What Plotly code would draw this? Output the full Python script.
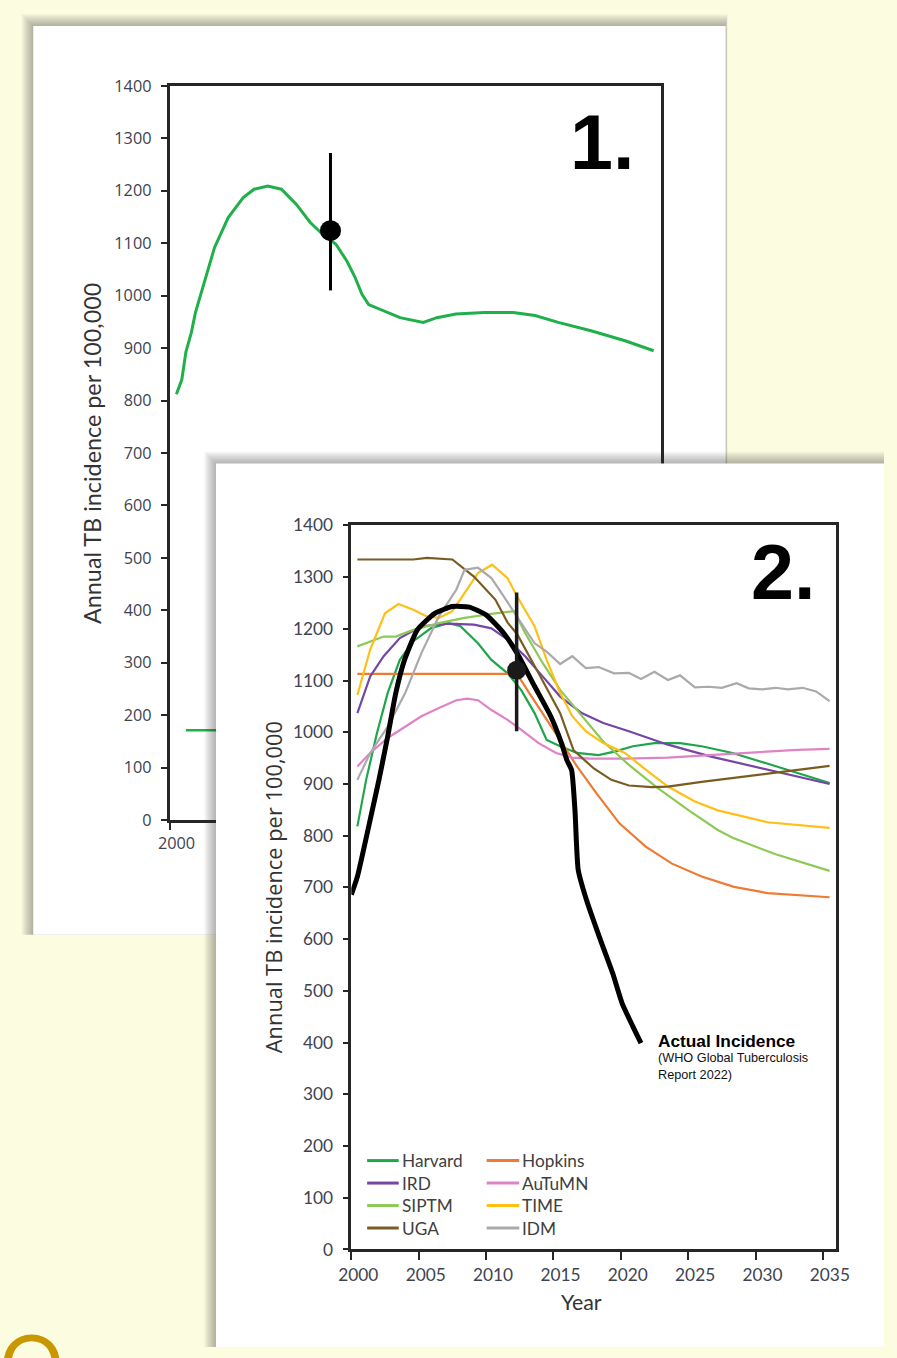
import plotly.graph_objects as go

W, H = 897, 1358
BG = "#FCFCE1"
AXIS = "#262626"
TICKC = "#3D4350"

# screen mapping observed for the photographing step (picture px = S * figure px + O)
SX, OX = 0.983, 9.5
SY, OY = 0.985, 10.0
FS = 1 / 0.984  # font/size compensation

# ---------------- Panel 1 data (single model) ----------------
p1_years = [2000.5, 2000.9, 2001.2, 2001.6, 2001.9, 2002.5, 2003.3, 2004.3, 2005.4, 2006.2,
            2007.2, 2008.2, 2009.3, 2010.3, 2011.1, 2012.2, 2013.0, 2013.6, 2014.1, 2014.6,
            2015.7, 2016.9, 2018.6, 2019.6, 2021.0, 2023.1, 2025.2, 2026.8, 2028.5, 2030.9,
            2033.4, 2035.5]
p1_values = [812, 840, 893, 930, 968, 1022, 1092, 1149, 1187, 1203,
             1209, 1203, 1174, 1140, 1120, 1098, 1066, 1035, 1003, 983,
             971, 958, 949, 958, 965, 968, 968, 962, 949, 933,
             914, 895]
p1_point = {"year": 2011.8, "value": 1124, "plus": 148, "minus": 114}
p1_legend_value = 171

# ---------------- Panel 2 data (eight models + actual) ----------------
harvard_x = [2000.45, 2001.1, 2001.9, 2002.7, 2003.6, 2004.6, 2005.9, 2007.2, 2008.1, 2009.4, 2010.4,
             2011.6, 2012.6, 2013.6, 2014.5, 2015.5, 2016.75, 2018.35, 2019.6, 2020.9, 2022.5, 2024.4,
             2026.0, 2028.3, 2030.8, 2033.1, 2035.5]
harvard_y = [818, 908, 998, 1076, 1140, 1176, 1201, 1211, 1205, 1172, 1140,
             1114, 1082, 1037, 985, 973, 960, 956, 963, 973, 979, 979,
             973, 960, 940, 921, 902]

hopkins_x = [2000.45, 2012.3, 2013.2, 2014.2, 2015.5, 2016.7, 2018.2, 2019.9, 2021.85, 2023.8,
             2026.0, 2028.4, 2030.9, 2035.5]
hopkins_y = [1113, 1113, 1076, 1037, 985, 936, 882, 824, 779, 746,
             721, 701, 689, 681]

ird_x = [2000.45, 2001.4, 2002.4, 2003.6, 2005.2, 2007.2, 2009.1, 2010.4, 2011.6, 2012.9, 2014.2,
         2015.5, 2017.1, 2018.7, 2020.6, 2023.5, 2026.7, 2029.9, 2033.1, 2035.5]
ird_y = [1037, 1108, 1147, 1182, 1205, 1210, 1208, 1201, 1179, 1147, 1108,
         1069, 1037, 1018, 1002, 976, 953, 934, 914, 900]

autumn_x = [2000.45, 2001.4, 2002.7, 2004.0, 2005.2, 2006.5, 2007.8, 2008.6, 2009.4, 2010.4, 2011.6,
            2012.6, 2013.9, 2015.2, 2016.4, 2017.7, 2020.3, 2023.5, 2026.7, 2029.9, 2033.1, 2035.5]
autumn_y = [934, 960, 989, 1011, 1031, 1047, 1062, 1065, 1062, 1043, 1024,
            1005, 979, 960, 951, 949, 949, 951, 956, 962, 966, 968]

siptm_x = [2000.45, 2001.4, 2002.4, 2003.3, 2004.6, 2006.5, 2008.4, 2010.4, 2012.1, 2012.9, 2014.2,
           2015.5, 2017.1, 2018.7, 2020.6, 2022.7, 2025.1, 2027.2, 2028.3, 2031.5, 2035.5]
siptm_y = [1166, 1176, 1185, 1185, 1198, 1211, 1221, 1229, 1234, 1192, 1134,
           1082, 1031, 982, 937, 893, 848, 811, 796, 764, 732]

time_x = [2000.45, 2001.4, 2002.5, 2003.5, 2004.6, 2005.6, 2006.5, 2007.5, 2008.4, 2009.4, 2010.45,
          2011.6, 2012.3, 2013.6, 2014.5, 2015.5, 2016.4, 2017.4, 2018.7, 2020.3, 2021.9, 2023.5,
          2025.5, 2027.2, 2030.9, 2035.5]
time_y = [1072, 1160, 1230, 1248, 1237, 1224, 1221, 1234, 1269, 1308, 1324,
          1298, 1263, 1205, 1140, 1076, 1031, 1002, 979, 960, 927, 895,
          866, 849, 826, 815]

uga_x = [2000.45, 2004.6, 2005.6, 2007.5, 2009.1, 2010.7, 2011.6, 2012.3, 2013.9, 2015.5, 2016.5,
         2018.0, 2019.3, 2020.6, 2022.3, 2023.5, 2026.0, 2030.9, 2035.5]
uga_y = [1334, 1334, 1337, 1334, 1301, 1256, 1212, 1190, 1114, 1037, 965,
         930, 908, 897, 894, 895, 904, 920, 935]

idm_x = [2000.45, 2001.4, 2002.7, 2004.0, 2005.2, 2006.5, 2007.8, 2008.4, 2009.4, 2010.4, 2011.3,
         2012.3, 2012.9, 2013.6, 2014.5, 2015.5, 2016.4, 2017.4, 2018.35, 2019.5, 2020.6, 2021.5,
         2022.5, 2023.5, 2024.4, 2025.5, 2026.5, 2027.5, 2028.6, 2029.5, 2030.5, 2031.5, 2032.4,
         2033.5, 2034.5, 2035.5]
idm_y = [908, 960, 1011, 1076, 1153, 1224, 1276, 1314, 1318, 1298, 1263,
         1224, 1198, 1172, 1156, 1132, 1147, 1124, 1126, 1114, 1115, 1103,
         1117, 1101, 1110, 1087, 1088, 1086, 1095, 1085, 1083, 1086, 1083,
         1086, 1079, 1060]

actual_x = [2000.0, 2000.45, 2001.4, 2002.05, 2002.7, 2003.3, 2003.95, 2004.9, 2006.2, 2007.5, 2008.75,
            2010.0, 2011.3, 2012.3, 2013.6, 2014.8, 2015.6, 2016.0, 2016.35, 2016.6, 2016.84, 2017.45,
            2018.4, 2019.4, 2020.1, 2020.9, 2021.5]
actual_y = [686, 721, 831, 908, 992, 1076, 1140, 1198, 1230, 1243, 1242,
            1227, 1192, 1153, 1089, 1031, 979, 946, 927, 849, 734, 676,
            605, 534, 476, 431, 399]

p2_point = {"year": 2012.27, "value": 1120, "plus": 150, "minus": 118}

models = ["Harvard", "Hopkins", "IRD", "AuTuMN", "SIPTM", "TIME", "UGA", "IDM"]
model_x = [harvard_x, hopkins_x, ird_x, autumn_x, siptm_x, time_x, uga_x, idm_x]
model_y = [harvard_y, hopkins_y, ird_y, autumn_y, siptm_y, time_y, uga_y, idm_y]
colors = ["#1FA64A", "#EE7A33", "#7447A6", "#E083C6", "#8DC955", "#FFBF14", "#7A5C22", "#AAAAAA"]
legend_cols = [["Harvard", "IRD", "SIPTM", "UGA"], ["Hopkins", "AuTuMN", "TIME", "IDM"]]

year_ticks = [2000, 2005, 2010, 2015, 2020, 2025, 2030, 2035]
value_ticks = list(range(0, 1401, 100))


def fx(p):
    """target picture x pixel -> paper fraction"""
    return ((p - OX) / SX) / W


def fy(p):
    """target picture y pixel -> paper fraction"""
    return 1 - ((p - OY) / SY) / H


def fs(s):
    return round(s * FS, 2)


fig = go.Figure()

# ---- panel 1 traces (subplot xy) ----
fig.add_trace(go.Scatter(x=p1_years, y=p1_values, mode="lines",
                         line=dict(color="#1FB04A", width=3), xaxis="x", yaxis="y",
                         showlegend=False, hoverinfo="skip"))
fig.add_trace(go.Scatter(x=[p1_point["year"]], y=[p1_point["value"]], mode="markers",
                         marker=dict(color="black", size=21),
                         error_y=dict(type="data", symmetric=False, array=[p1_point["plus"]],
                                      arrayminus=[p1_point["minus"]], thickness=3, width=0,
                                      color="black"),
                         xaxis="x", yaxis="y", showlegend=False, hoverinfo="skip"))

# ---- card 2 (subplot x2y2, drawn above panel 1); its axes use picture pixels ----
C2X, C2Y = 215, 463
for k in range(12, 0, -1):
    fig.add_trace(go.Scatter(x=[C2X - k, 930, 930, C2X - k, C2X - k],
                             y=[C2Y - k, C2Y - k, 1400, 1400, C2Y - k],
                             fill="toself", fillcolor="rgba(70,70,55,0.035)", mode="none",
                             xaxis="x2", yaxis="y2", showlegend=False, hoverinfo="skip"))
fig.add_trace(go.Scatter(x=[C2X, 930, 930, C2X, C2X], y=[C2Y, C2Y, 1400, 1400, C2Y],
                         fill="toself", fillcolor="white", mode="none",
                         xaxis="x2", yaxis="y2", showlegend=False, hoverinfo="skip"))

# ---- panel 2 traces (subplot x3y3) ----
for name, xs, ys, c in zip(models, model_x, model_y, colors):
    fig.add_trace(go.Scatter(x=xs, y=ys, mode="lines", name=name,
                             line=dict(color=c, width=2.2), xaxis="x3", yaxis="y3",
                             showlegend=False, hoverinfo="skip"))
fig.add_trace(go.Scatter(x=actual_x, y=actual_y, mode="lines", name="Actual Incidence",
                         line=dict(color="black", width=5, shape="spline", smoothing=0.5),
                         xaxis="x3", yaxis="y3", showlegend=False, hoverinfo="skip"))
fig.add_trace(go.Scatter(x=[p2_point["year"]], y=[p2_point["value"]], mode="markers",
                         marker=dict(color="#1A1A1A", size=19),
                         error_y=dict(type="data", symmetric=False, array=[p2_point["plus"]],
                                      arrayminus=[p2_point["minus"]], thickness=3.5, width=0,
                                      color="#1A1A1A"),
                         xaxis="x3", yaxis="y3", showlegend=False, hoverinfo="skip"))

axis_common = dict(showline=True, mirror=True, linecolor=AXIS, linewidth=2.6,
                   ticks="outside", tickcolor=AXIS, tickwidth=2, showgrid=False,
                   zeroline=False, fixedrange=True)

shapes = []
# card 1 shadow + card
C1 = (30, 25, 731, 935)
for k in range(12, 0, -1):
    shapes.append(dict(type="rect", xref="paper", yref="paper", layer="below",
                       x0=fx(C1[0] - k), x1=fx(C1[2] + k * 0.15), y0=fy(C1[1] - k), y1=fy(C1[3]),
                       fillcolor="rgba(70,70,55,0.035)", line=dict(width=0)))
shapes.append(dict(type="rect", xref="paper", yref="paper", layer="below",
                   x0=fx(C1[0]), x1=fx(C1[2]), y0=fy(C1[1]), y1=fy(C1[3]),
                   fillcolor="white", line=dict(width=0)))
# panel 1 legend sample (mostly hidden behind card 2)
shapes.append(dict(type="line", xref="x", yref="y", layer="below",
                   x0=2001.2, x1=2005.0, y0=p1_legend_value, y1=p1_legend_value,
                   line=dict(color="#1FB04A", width=2.5)))

annotations = []
# manual two-column legend for panel 2
row_y = [1161, 1183.5, 1206, 1228.5]
col_line = [(368, 400), (489, 522)]
col_text = [402, 524]
for ci, col in enumerate(legend_cols):
    for ri, name in enumerate(col):
        c = colors[models.index(name)]
        shapes.append(dict(type="line", xref="paper", yref="paper", layer="above",
                           x0=fx(col_line[ci][0]), x1=fx(col_line[ci][1]),
                           y0=fy(row_y[ri]), y1=fy(row_y[ri]), line=dict(color=c, width=3)))
        annotations.append(dict(text=name, xref="paper", yref="paper", x=fx(col_text[ci]),
                                y=fy(row_y[ri]), xanchor="left", yanchor="middle",
                                showarrow=False, borderpad=0,
                                font=dict(family="Lato", size=fs(17), color="#404040")))

annotations += [
    dict(text="<b>1.</b>", xref="paper", yref="paper", x=fx(606), y=fy(141),
         xanchor="center", yanchor="middle", showarrow=False,
         font=dict(family="Liberation Sans", size=fs(76), color="black")),
    dict(text="<b>2.</b>", xref="paper", yref="paper", x=fx(789), y=fy(572),
         xanchor="center", yanchor="middle", showarrow=False,
         font=dict(family="Liberation Sans", size=fs(76), color="black")),
    dict(text="Annual TB incidence per 100,000", xref="paper", yref="paper",
         x=fx(90), y=fy(453), textangle=-90, xanchor="center", yanchor="middle",
         showarrow=False, font=dict(family="Lato", size=fs(23), color="#333333")),
    dict(text="Annual TB incidence per 100,000", xref="paper", yref="paper",
         x=fx(274), y=fy(887), textangle=-90, xanchor="center", yanchor="middle",
         showarrow=False, font=dict(family="Open Sans", size=fs(21.5), color="#333333")),
    dict(text="Year", xref="paper", yref="paper", x=fx(585), y=fy(1303),
         xanchor="center", yanchor="middle", showarrow=False,
         font=dict(family="Lato", size=fs(21), color="#333333")),
    dict(text="<b>Actual Incidence</b>", xref="paper", yref="paper", x=fx(661), y=fy(1041),
         xanchor="left", yanchor="middle", showarrow=False, borderpad=0,
         font=dict(family="Liberation Sans", size=fs(17), color="black")),
    dict(text="(WHO Global Tuberculosis<br>Report 2022)", xref="paper", yref="paper",
         x=fx(661), y=fy(1067), xanchor="left", yanchor="middle", align="left",
         showarrow=False, borderpad=0,
         font=dict(family="Liberation Sans", size=fs(12.5), color="#111111")),
    dict(text="O", xref="paper", yref="paper", x=fx(28), y=fy(1362),
         xanchor="center", yanchor="middle", showarrow=False,
         font=dict(family="Lato", size=fs(78), color="#C99700")),
]

X2_RIGHT = SX * W + OX
Y2_BOTTOM = SY * H + OY

fig.update_layout(
    width=W, height=H,
    margin=dict(l=0, r=0, t=0, b=0, pad=0),
    paper_bgcolor=BG, plot_bgcolor="rgba(0,0,0,0)",
    showlegend=False, hovermode=False,
    xaxis=dict(domain=[fx(168), fx(665)], range=[2000, 2036], tickvals=year_ticks,
               ticklen=7, ticklabelshift=7, anchor="y",
               tickfont=dict(family="Open Sans", size=fs(16), color=TICKC), **axis_common),
    yaxis=dict(domain=[fy(820), fy(85)], range=[0, 1400], tickvals=value_ticks,
               ticklen=6, ticklabelstandoff=6, anchor="x",
               tickfont=dict(family="Open Sans", size=fs(16), color=TICKC), **axis_common),
    xaxis2=dict(domain=[fx(190), 1], range=[190, X2_RIGHT], visible=False, anchor="y2",
                fixedrange=True),
    yaxis2=dict(domain=[0, fy(440)], range=[Y2_BOTTOM, 440], visible=False, anchor="x2",
                fixedrange=True),
    xaxis3=dict(domain=[fx(352), fx(843)], range=[2000, 2036], tickvals=year_ticks,
                ticklen=8, ticklabelshift=7, anchor="y3",
                tickfont=dict(family="Lato", size=fs(17), color=TICKC), **axis_common),
    yaxis3=dict(domain=[fy(1250), fy(525)], range=[0, 1400], tickvals=value_ticks,
                ticklen=6, ticklabelstandoff=6, anchor="x3",
                tickfont=dict(family="Lato", size=fs(17), color=TICKC), **axis_common),
    shapes=shapes,
    annotations=annotations,
)

page_js = (
    "document.body.style.margin='0';"
    "document.body.style.overflow='hidden';"
    "document.documentElement.style.background="
    "'linear-gradient(#ffffff,#ffffff) right bottom / 75% 64% no-repeat, " + BG + "';"
)
fig.write_html("out.html", config={"displayModeBar": False, "responsive": False},
               post_script=page_js)
